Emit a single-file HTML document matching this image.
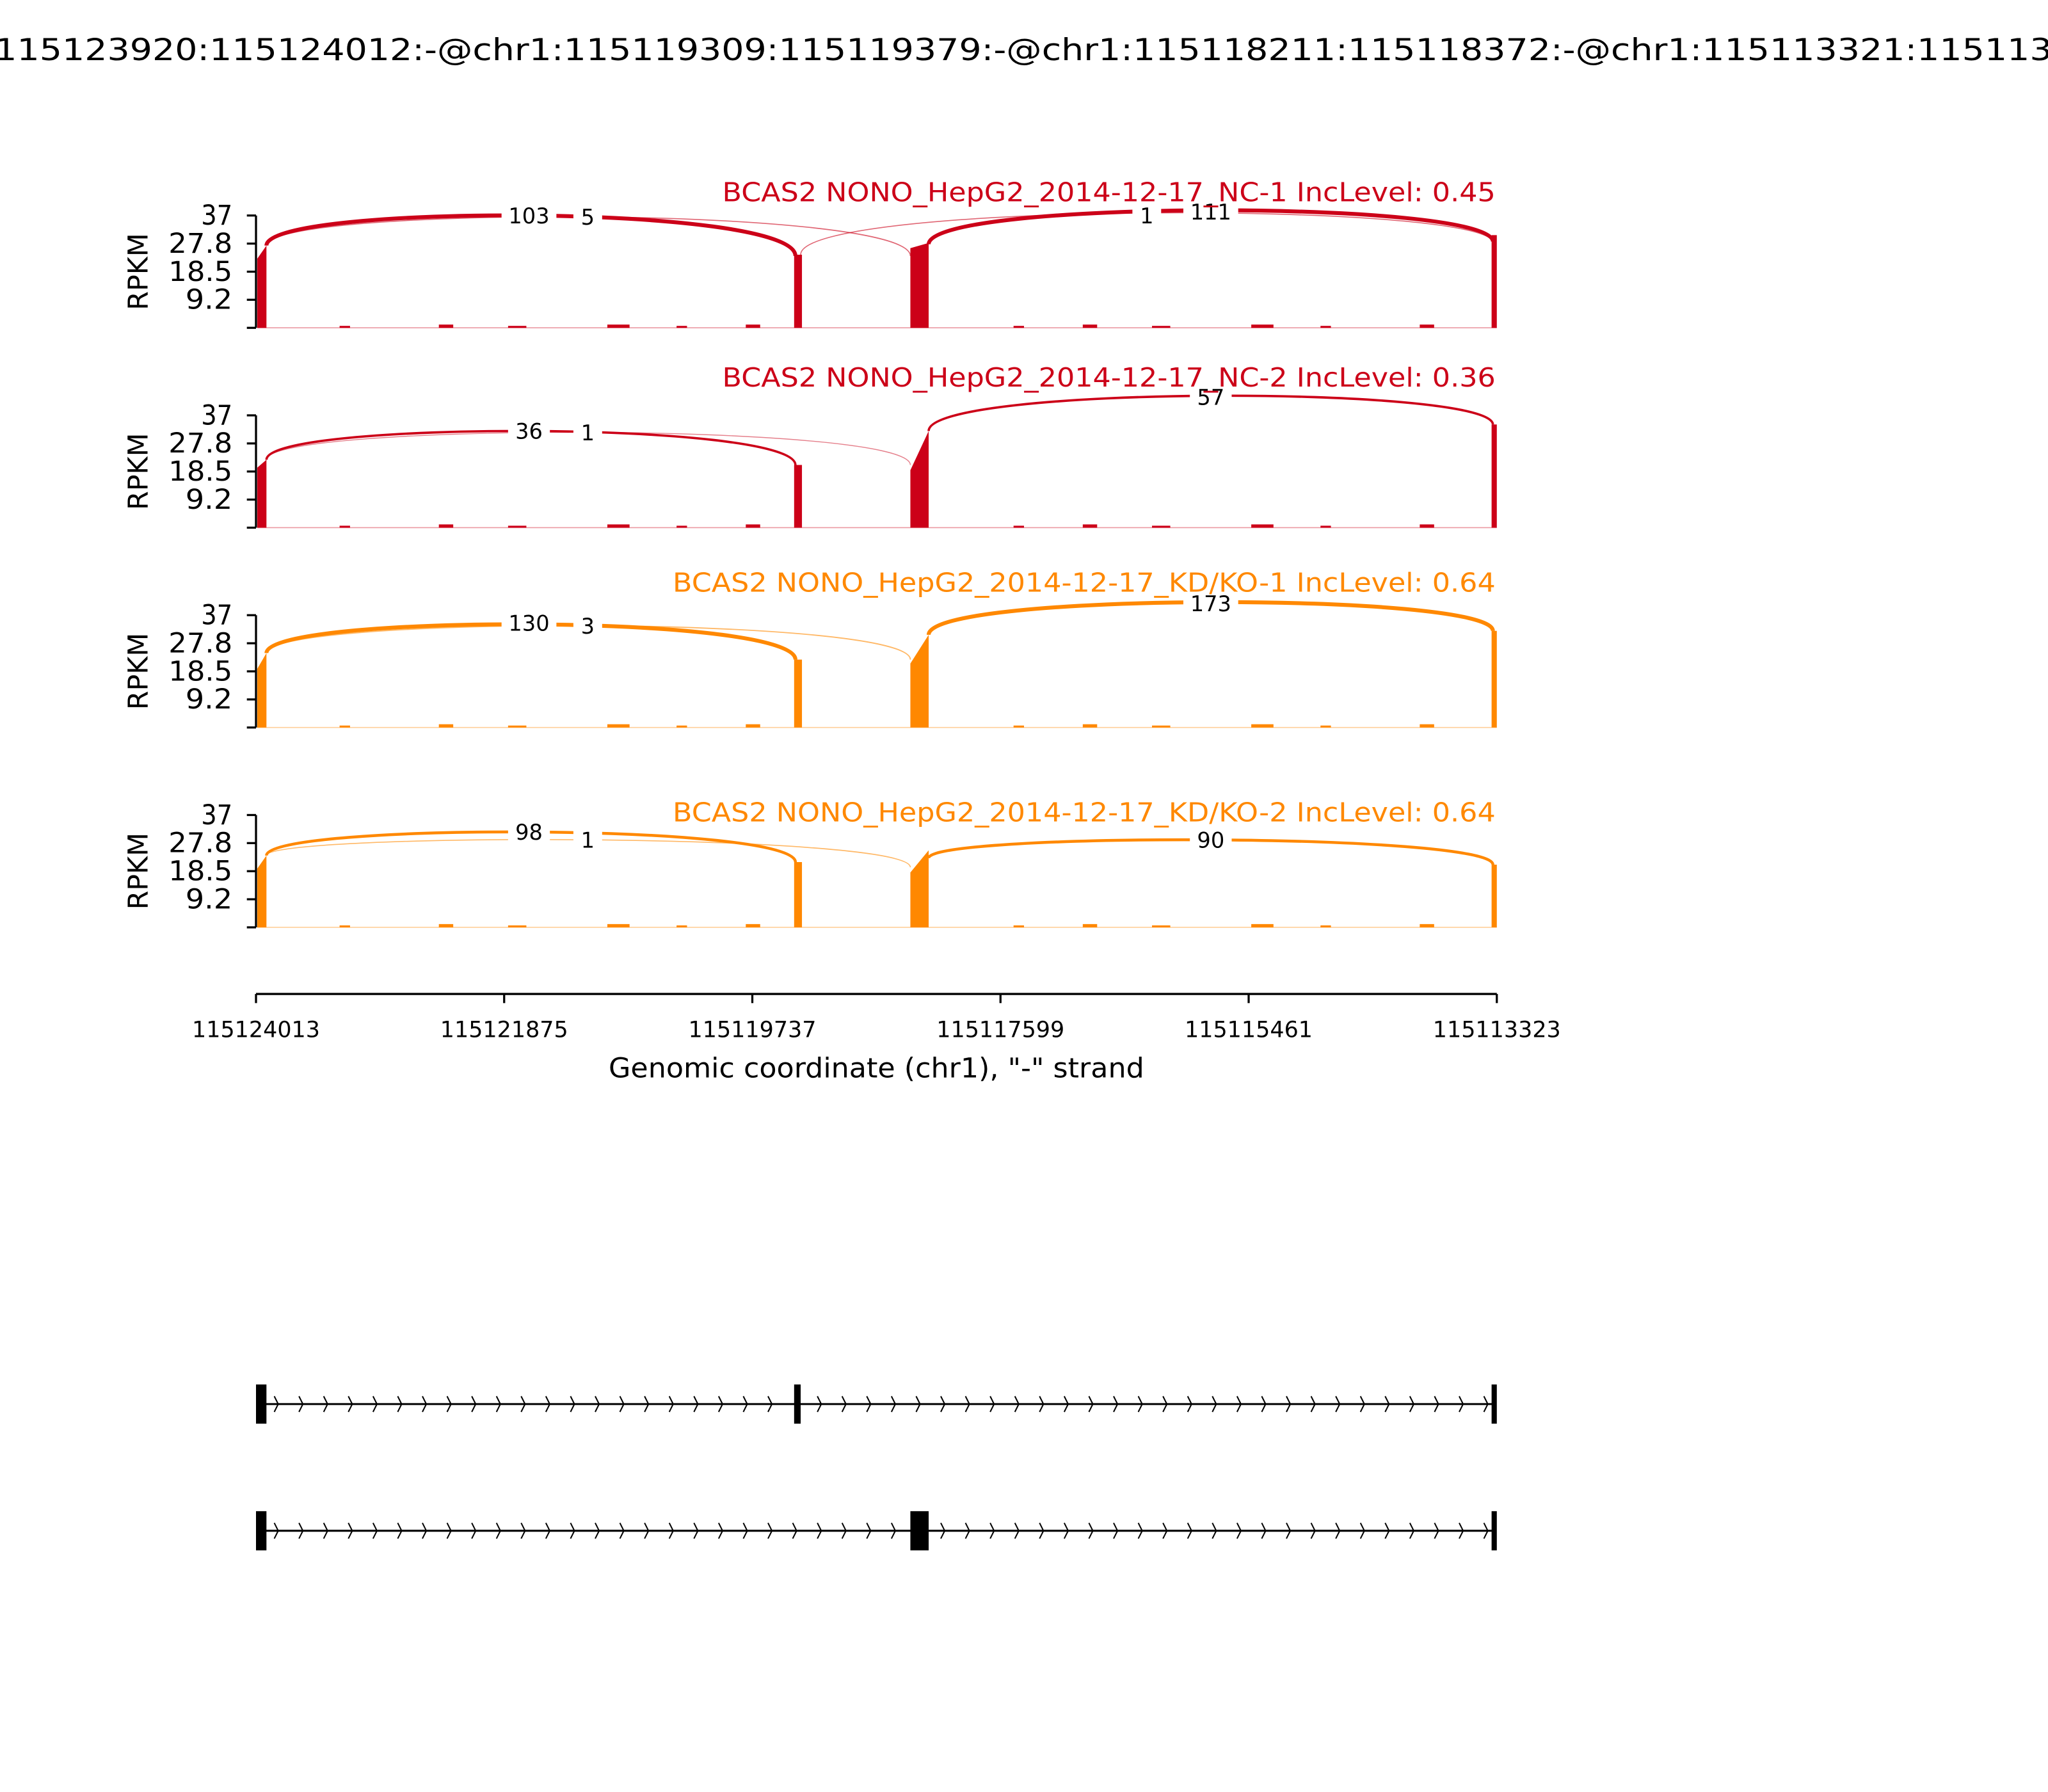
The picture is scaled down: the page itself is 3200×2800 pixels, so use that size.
<!DOCTYPE html>
<html><head><meta charset="utf-8"><style>html,body{margin:0;padding:0;background:#fff}svg{display:block}</style></head>
<body>
<svg id="s" xmlns="http://www.w3.org/2000/svg" width="3200" height="2800" viewBox="0 0 1568 1372" preserveAspectRatio="none" font-family="DejaVu Sans, Liberation Sans, sans-serif">
<rect width="1568" height="1372" fill="#fff"/>
<text x="784" y="46" font-size="23" text-anchor="middle" textLength="1716" lengthAdjust="spacingAndGlyphs">chr1:115123920:115124012:-@chr1:115119309:115119379:-@chr1:115118211:115118372:-@chr1:115113321:115113482:-</text>
<g id="panels"></g>
<g stroke="#000" stroke-width="1.6">
<line x1="196" y1="761" x2="1146" y2="761"/>
<line x1="196" y1="761" x2="196" y2="768"/><line x1="386" y1="761" x2="386" y2="768"/><line x1="576" y1="761" x2="576" y2="768"/><line x1="766" y1="761" x2="766" y2="768"/><line x1="956" y1="761" x2="956" y2="768"/><line x1="1146" y1="761" x2="1146" y2="768"/>
</g>
<g font-size="17" text-anchor="middle">
<text x="196" y="794" textLength="98" lengthAdjust="spacingAndGlyphs">115124013</text><text x="386" y="794" textLength="98" lengthAdjust="spacingAndGlyphs">115121875</text><text x="576" y="794" textLength="98" lengthAdjust="spacingAndGlyphs">115119737</text><text x="766" y="794" textLength="98" lengthAdjust="spacingAndGlyphs">115117599</text><text x="956" y="794" textLength="98" lengthAdjust="spacingAndGlyphs">115115461</text><text x="1146" y="794" textLength="98" lengthAdjust="spacingAndGlyphs">115113323</text>
</g>
<text x="671" y="825" font-size="21" text-anchor="middle" textLength="410" lengthAdjust="spacingAndGlyphs">Genomic coordinate (chr1), "-" strand</text>
<g id="genes"></g>
</svg>
<script>
const NS="http://www.w3.org/2000/svg";
function el(p,t,a,txt){const e=document.createElementNS(NS,t);for(const k in a)e.setAttribute(k,a[k]);if(txt!==undefined)e.textContent=txt;p.appendChild(e);return e;}
const P=document.getElementById('panels');
const RED="#cc0018",OR="#ff8800";
function arc(g,x1,y1,x2,y2,T,w,c,op){const cy=(T-0.125*(y1+y2))/0.75;el(g,'path',{d:`M${x1} ${y1} C${x1} ${cy} ${x2} ${cy} ${x2} ${y2}`,fill:'none',stroke:c,'stroke-width':w,'stroke-opacity':op||1});}
function lab(g,x,y,t){const w=t.length*10+12;el(g,'rect',{x:x-w/2,y:y-11,width:w,height:19,fill:'#fff'});el(g,'text',{x:x,y:y+6,'font-size':16.5,'text-anchor':'middle'},t);}
const panels=[
{b:251,c:RED,tl:592,title:"BCAS2 NONO_HepG2_2014-12-17_NC-1 IncLevel: 0.45",ty:154,
 ex:[[197,204,198,188],[608,614,195,195],[697,711,190,186],[1142,1146,180,180]],
 arcs:[[204,188,609,196,165,3,1],[204,188,697,196,166,0.8,0.6],[613,195,1143,186,163,0.8,0.6],[711,187,1143,185,161,3,1]],
 labs:[[405,165,"103"],[450,166,"5"],[878,165,"1"],[927,162,"111"]]},
{b:404,c:RED,tl:592,title:"BCAS2 NONO_HepG2_2014-12-17_NC-2 IncLevel: 0.36",ty:296,
 ex:[[197,204,358,352],[608,614,356,356],[697,711,360,330],[1142,1146,325,325]],
 arcs:[[204,352,609,356,330,1.8,1],[204,352,697,356,331,0.7,0.5],[711,330,1143,325,303,1.8,1]],
 labs:[[405,330,"36"],[450,331,"1"],[927,304,"57"]]},
{b:557,c:OR,tl:630,title:"BCAS2 NONO_HepG2_2014-12-17_KD/KO-1 IncLevel: 0.64",ty:453,
 ex:[[197,204,512,500],[608,614,505,505],[697,711,508,486],[1142,1146,483,483]],
 arcs:[[204,500,609,505,478,3,1],[204,500,697,505,479,0.9,0.6],[711,486,1143,483,461,3,1]],
 labs:[[405,477,"130"],[450,479,"3"],[927,462,"173"]]},
{b:710,c:OR,tl:630,title:"BCAS2 NONO_HepG2_2014-12-17_KD/KO-2 IncLevel: 0.64",ty:629,
 ex:[[197,204,665,655],[608,614,660,660],[697,711,668,651],[1142,1146,662,662]],
 arcs:[[204,655,609,660,637,2.2,1],[204,655,697,664,643,0.8,0.6],[711,657,1143,662,643,2.2,1]],
 labs:[[405,637,"98"],[450,643,"1"],[927,643,"90"]]}
];
panels.forEach(p=>{
 const g=el(P,'g',{});const b=p.b,t=b-86;
 el(g,'line',{x1:197,y1:b,x2:1146,y2:b,stroke:p.c,'stroke-width':0.8,'stroke-opacity':0.4});
 p.ex.forEach(e=>{el(g,'polygon',{points:`${e[0]},${b} ${e[0]},${e[2]} ${e[1]},${e[3]} ${e[1]},${b}`,fill:p.c});});
 for(let i=0;i<14;i++){const x=260+i*62+((i*37)%23);if((x>600&&x<720)||x>1130)continue;el(g,'rect',{x:x,y:b-1.5-(i%2),width:8+(i%4)*3,height:1.5+(i%2),fill:p.c});}
 p.arcs.forEach(a=>arc(g,a[0],a[1],a[2],a[3],a[4],a[5],p.c,a[6]));
 p.labs.forEach(l=>lab(g,l[0],l[1],l[2]));
 el(g,'text',{x:1145,y:p.ty,'font-size':20,'text-anchor':'end',fill:p.c,textLength:p.tl,lengthAdjust:'spacingAndGlyphs'},p.title);
 el(g,'line',{x1:196,y1:t,x2:196,y2:b,stroke:'#000','stroke-width':1.6});
 const vals=["37","27.8","18.5","9.2",""];const wl=[24,49,49,36];
 for(let i=0;i<5;i++){const y=t+i*21.5;el(g,'line',{x1:189,y1:y,x2:196,y2:y,stroke:'#000','stroke-width':1.6});if(vals[i])el(g,'text',{x:178,y:y+7,'font-size':21,'text-anchor':'end',textLength:wl[i],lengthAdjust:'spacingAndGlyphs'},vals[i]);}
 el(g,'text',{x:0,y:0,'font-size':21,'text-anchor':'middle',transform:`translate(113,${t+43}) rotate(-90)`,textLength:59,lengthAdjust:'spacingAndGlyphs'},'RPKM');
});
const G=document.getElementById('genes');
function gene(y,ex){el(G,'line',{x1:198,y1:y,x2:1144,y2:y,stroke:'#000','stroke-width':1.5});
 let d='';for(let x=210;x<1140;x+=18.9){let skip=false;ex.forEach(e=>{if(x>e[0]-4&&x<e[1]+3)skip=true;});if(skip)continue;d+=`M${x} ${y-6}L${x+3} ${y}L${x} ${y+6}`;}
 el(G,'path',{d:d,fill:'none',stroke:'#000','stroke-width':1});
 ex.forEach(e=>el(G,'rect',{x:e[0],y:y-15,width:e[1]-e[0],height:30,fill:'#000'}));}
gene(1075,[[196,204],[608,613],[1142,1146]]);
gene(1172,[[196,204],[697,711],[1142,1146]]);
</script>
</body></html>
